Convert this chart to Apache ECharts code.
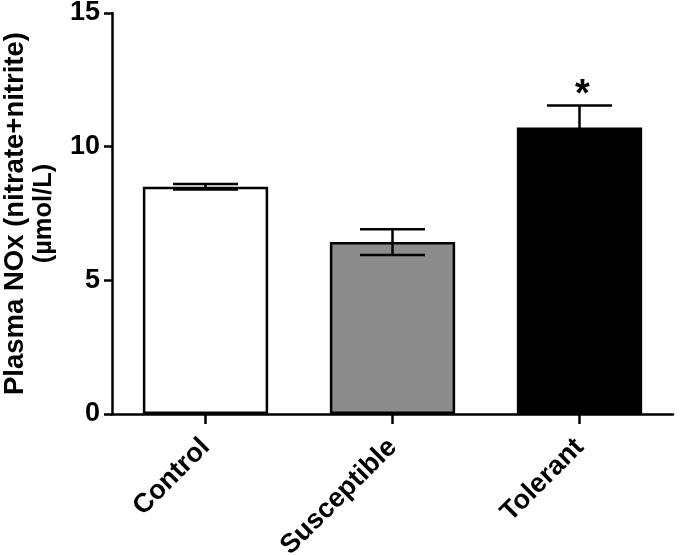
<!DOCTYPE html>
<html>
<head>
<meta charset="utf-8">
<script src="https://cdn.jsdelivr.net/npm/echarts@6/dist/echarts.min.js"></script>
<style>html,body{margin:0;padding:0;background:#fff;}#c{width:680px;height:555px;}</style>
</head>
<body>
<div id="c"></div>
<script>
var categories = ['Control', 'Susceptible', 'Tolerant'];
var means = [8.5, 6.43, 10.72];
var errors = [0.1, 0.48, 0.82];
var significance = ['', '', '*'];
var barColors = ['#ffffff', '#8c8c8c', '#000000'];
var yTicks = [0, 5, 10, 15];
var yTitle1 = 'Plasma NOx (nitrate+nitrite)';
var yTitle2 = '(µmol/L)';

var chart = echarts.init(document.getElementById('c'), null, {renderer: 'canvas'});
var font = 'Liberation Sans, Arial, Helvetica, sans-serif';

chart.setOption({
  animation: false,
  backgroundColor: '#ffffff',
  grid: {left: 112, right: 7, top: 13, bottom: 141, containLabel: false, outerBoundsMode: 'none'},
  xAxis: {
    type: 'category',
    data: categories,
    axisLine: {show: true, lineStyle: {color: '#000', width: 2.5}},
    axisTick: {show: true, alignWithLabel: true, length: 10, lineStyle: {color: '#000', width: 2.5}},
    axisLabel: {rotate: 45, margin: 29, color: '#000', fontSize: 27, fontWeight: 'bold', fontFamily: font, interval: 0},
    splitLine: {show: false}
  },
  yAxis: {
    type: 'value',
    min: yTicks[0],
    max: yTicks[yTicks.length - 1],
    interval: yTicks[1] - yTicks[0],
    name: '{a|' + yTitle1 + '}\n{b|' + yTitle2 + '}',
    nameLocation: 'middle',
    nameGap: 55,
    nameRotate: 90,
    nameTextStyle: {
      color: '#000', fontSize: 26, fontWeight: 'bold', fontFamily: font, align: 'center',
      rich: {
        a: {fontSize: 27.5, fontWeight: 'bold', fontFamily: font, color: '#000', lineHeight: 29},
        b: {fontSize: 25.5, fontWeight: 'bold', fontFamily: font, color: '#000', lineHeight: 27}
      }
    },
    axisLine: {show: true, lineStyle: {color: '#000', width: 2.5}},
    axisTick: {show: true, length: 8, lineStyle: {color: '#000', width: 2.5}},
    axisLabel: {margin: 12, color: '#000', fontSize: 27, fontWeight: 'bold', fontFamily: font},
    splitLine: {show: false}
  },
  series: [
    {
      type: 'bar',
      barWidth: '67%',
      data: means.map(function (v, i) {
        return {value: v, itemStyle: {color: barColors[i], borderColor: '#000', borderWidth: 2.5}};
      }),
      z: 2
    },
    {
      type: 'custom',
      z: 3,
      data: means.map(function (v, i) { return [i, v, errors[i]]; }),
      renderItem: function (params, api) {
        var i = api.value(0), m = api.value(1), e = api.value(2);
        var top = api.coord([i, m + e]);
        var bot = api.coord([i, m - e]);
        var hw = 32.5;
        var style = {stroke: '#000', lineWidth: 2.5};
        var children = [
          {type: 'line', shape: {x1: top[0], y1: top[1], x2: bot[0], y2: bot[1]}, style: style},
          {type: 'line', shape: {x1: top[0] - hw, y1: top[1], x2: top[0] + hw, y2: top[1]}, style: style},
          {type: 'line', shape: {x1: bot[0] - hw, y1: bot[1], x2: bot[0] + hw, y2: bot[1]}, style: style}
        ];
        var sig = significance[params.dataIndex];
        if (sig) {
          children.push({type: 'text', style: {text: sig, x: top[0] + 3, y: top[1] - 10, align: 'center', verticalAlign: 'middle', fill: '#000', fontSize: 38, fontWeight: 'bold', fontFamily: font}});
        }
        return {type: 'group', children: children};
      }
    }
  ]
});
</script>
</body>
</html>
